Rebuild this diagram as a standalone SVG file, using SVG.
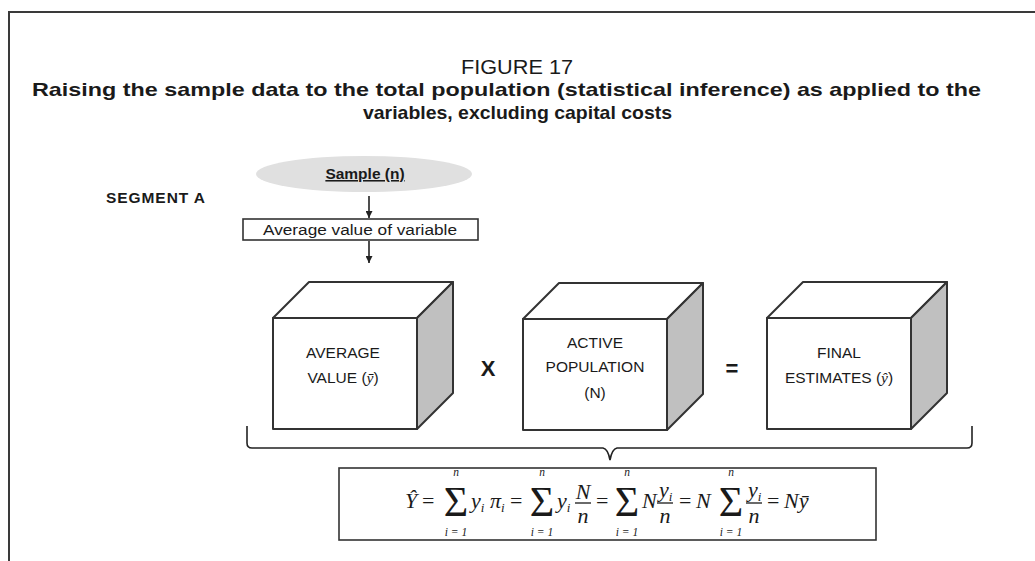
<svg xmlns="http://www.w3.org/2000/svg" width="1035" height="561" viewBox="0 0 1035 561">
<style>
.frame{fill:none;stroke:#3a3a3a;stroke-width:2}
.title{font-family:"Liberation Sans",Arial,sans-serif;fill:#1a1a1a}
.lbl{font-family:"Liberation Sans",Arial,sans-serif;font-size:15.5px;fill:#1a1a1a;text-anchor:middle}
.face{fill:#fff;stroke:#333;stroke-width:2;stroke-linejoin:round}
.side{fill:#c0c0c0;stroke:#333;stroke-width:2;stroke-linejoin:round}
.conn{fill:none;stroke:#222;stroke-width:1.6}
.m{font-family:"Liberation Serif","Times New Roman",serif;font-style:italic;font-size:22px;fill:#1a1a1a}
.mr{font-family:"Liberation Serif","Times New Roman",serif;font-size:22px;fill:#1a1a1a}
.sig{font-family:"Liberation Serif","Times New Roman",serif;font-size:42px;fill:#1a1a1a;text-anchor:middle}
.lim{font-family:"Liberation Serif","Times New Roman",serif;font-style:italic;font-size:11.5px;fill:#1a1a1a;text-anchor:middle}
.sub{font-size:13px}
.bar{stroke:#1a1a1a;stroke-width:1.3}
</style>
<defs>
<marker id="ah" viewBox="0 0 10 10" refX="10" refY="5" markerWidth="7" markerHeight="7" markerUnits="userSpaceOnUse" orient="auto">
<path d="M0,0 L10,5 L0,10 z" fill="#222"/>
</marker>
</defs>
<rect width="1035" height="561" fill="#fff"/>
<path class="frame" d="M9,561 L9,12 L1035,12"/>
<g id="title">
<text class="title" x="517" y="74" font-size="21" text-anchor="middle" textLength="112" lengthAdjust="spacingAndGlyphs">FIGURE 17</text>
<text class="title" x="32" y="96" font-size="19" font-weight="bold" textLength="949" lengthAdjust="spacingAndGlyphs">Raising the sample data to the total population (statistical inference) as applied to the</text>
<text class="title" x="363" y="119" font-size="19" font-weight="bold" textLength="309" lengthAdjust="spacingAndGlyphs">variables, excluding capital costs</text>
</g>
<g id="segment-label">
<text class="title" x="106" y="203" font-size="15.5" font-weight="bold" textLength="99" lengthAdjust="spacing">SEGMENT A</text>
</g>
<g id="sample">
<ellipse cx="364" cy="174" rx="108" ry="18" fill="#e0e0e0"/>
<text class="lbl" x="365" y="179" font-size="13.5" font-weight="bold" text-decoration="underline">Sample (n)</text>
</g>
<g id="average-box">
<rect x="243" y="219" width="235" height="21" fill="#fff" stroke="#333" stroke-width="1.6"/>
<text class="lbl" x="360" y="234.5" font-size="14" textLength="194" lengthAdjust="spacingAndGlyphs">Average value of variable</text>
</g>
<g id="cube-average">
<path class="face" d="M273,318 L309,282 L453,282 L417,318 Z"/>
<path class="side" d="M417,318 L453,282 L453,393 L417,429 Z"/>
<rect class="face" x="273" y="318" width="144" height="111"/>
<text class="lbl" x="343" y="358">AVERAGE</text>
<text class="lbl" x="343" y="383">VALUE (<tspan font-family="Liberation Serif,serif" font-style="italic">ȳ</tspan>)</text>
</g>
<g id="times">
<text class="title" x="488" y="376" font-size="22" font-weight="bold" text-anchor="middle">X</text>
</g>
<g id="cube-population">
<path class="face" d="M523,319 L559,283 L703,283 L667,319 Z"/>
<path class="side" d="M667,319 L703,283 L703,394 L667,430 Z"/>
<rect class="face" x="523" y="319" width="144" height="111"/>
<text class="lbl" x="595" y="348">ACTIVE</text>
<text class="lbl" x="595" y="372">POPULATION</text>
<text class="lbl" x="595" y="398">(N)</text>
</g>
<g id="equals">
<text class="title" x="732" y="376" font-size="22" font-weight="bold" text-anchor="middle">=</text>
</g>
<g id="cube-final">
<path class="face" d="M767,318 L803,282 L947,282 L911,318 Z"/>
<path class="side" d="M911,318 L947,282 L947,393 L911,429 Z"/>
<rect class="face" x="767" y="318" width="144" height="111"/>
<text class="lbl" x="839" y="358">FINAL</text>
<text class="lbl" x="839" y="383">ESTIMATES (<tspan font-family="Liberation Serif,serif" font-style="italic">ŷ</tspan>)</text>
</g>
<g id="connectors">
<line class="conn" x1="369" y1="196" x2="369" y2="218" marker-end="url(#ah)"/>
<line class="conn" x1="369" y1="241" x2="369" y2="263" marker-end="url(#ah)"/>
<path class="conn" d="M247,426 L247,443 Q247,448 252,448 L603,448 Q608,449 610,460 Q612,449 617,448 L967,448 Q972,448 972,443 L972,426"/>
</g>
<g id="formula">
<rect x="339" y="468" width="537" height="72" fill="#fff" stroke="#333" stroke-width="1.6"/>
<text class="m" x="405" y="508">Ŷ</text>
<text class="mr" x="422" y="508">=</text>
<text class="sig" x="456" y="516">Σ</text>
<text class="lim" x="456" y="476">n</text>
<text class="lim" x="456" y="536">i = 1</text>
<text class="m" x="471" y="508">y<tspan class="sub" dy="4">i</tspan><tspan dy="-4"> π</tspan><tspan class="sub" dy="4">i</tspan></text>
<text class="mr" x="510" y="508">=</text>
<text class="sig" x="542" y="516">Σ</text>
<text class="lim" x="542" y="476">n</text>
<text class="lim" x="542" y="536">i = 1</text>
<text class="m" x="557" y="508">y<tspan class="sub" dy="4">i</tspan></text>
<text class="m" x="583" y="499" text-anchor="middle">N</text>
<line class="bar" x1="575" y1="503" x2="591" y2="503"/>
<text class="m" x="583" y="523" text-anchor="middle">n</text>
<text class="mr" x="596" y="508">=</text>
<text class="sig" x="627" y="516">Σ</text>
<text class="lim" x="627" y="476">n</text>
<text class="lim" x="627" y="536">i = 1</text>
<text class="m" x="642" y="508">N</text>
<text class="m" x="659" y="497">y<tspan class="sub" dy="4">i</tspan></text>
<line class="bar" x1="657" y1="503" x2="673" y2="503"/>
<text class="m" x="665" y="523" text-anchor="middle">n</text>
<text class="mr" x="679" y="508">=</text>
<text class="m" x="696" y="508">N</text>
<text class="sig" x="731" y="516">Σ</text>
<text class="lim" x="731" y="476">n</text>
<text class="lim" x="731" y="536">i = 1</text>
<text class="m" x="748" y="497">y<tspan class="sub" dy="4">i</tspan></text>
<line class="bar" x1="746" y1="503" x2="762" y2="503"/>
<text class="m" x="754" y="523" text-anchor="middle">n</text>
<text class="mr" x="767" y="508">=</text>
<text class="m" x="784" y="508">Nȳ</text>
</g>
</svg>
